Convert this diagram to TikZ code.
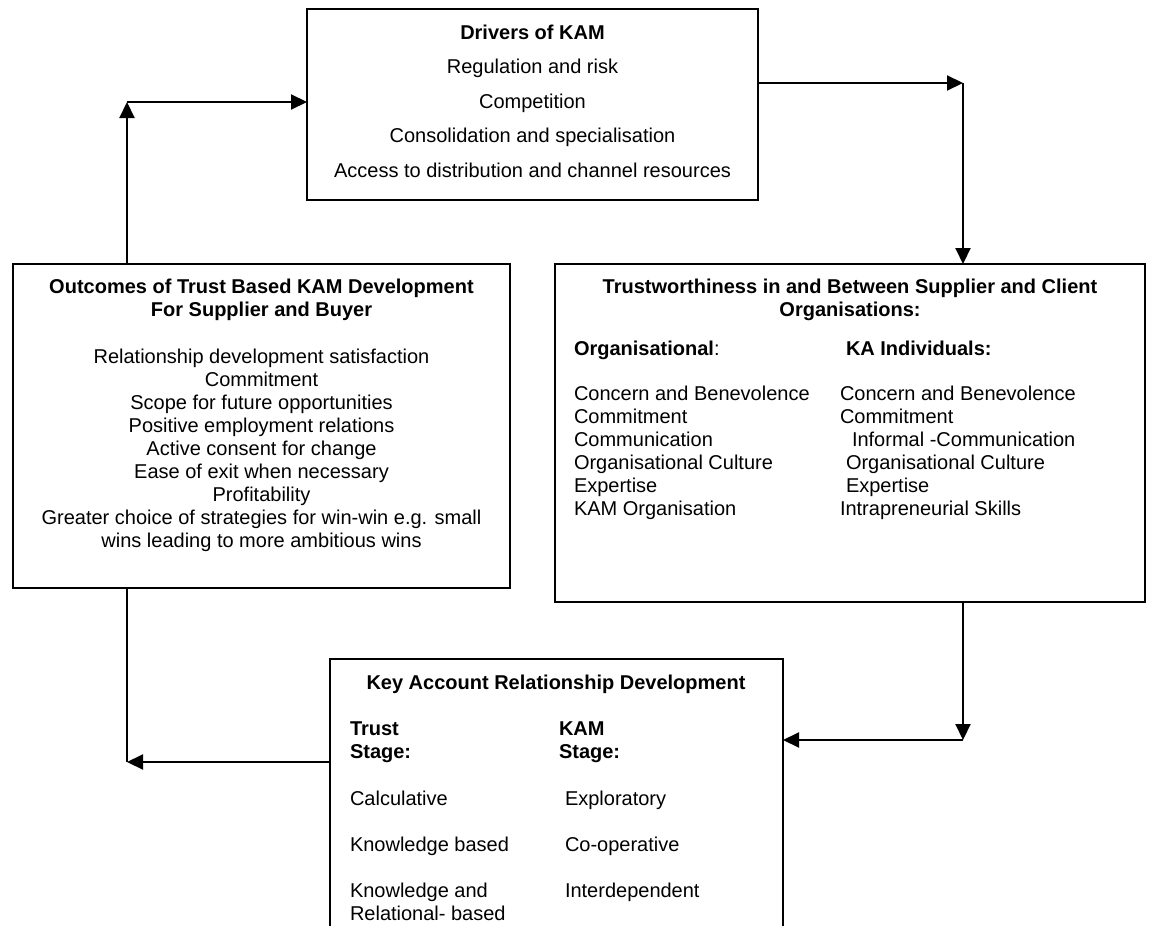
\documentclass[tikz,border=0pt]{standalone}
\usepackage{fontspec}
\setmainfont{Liberation Sans}
\usetikzlibrary{arrows.meta}
\begin{document}
\begin{tikzpicture}[x=1pt,y=-1pt,
  box/.style={draw, line width=2.1pt, anchor=north west, inner sep=0pt, outer sep=0pt},
  txt/.style={inner sep=0pt, outer sep=0pt, anchor=base, font=\fontsize{20pt}{23pt}\selectfont},
  ltxt/.style={txt, anchor=base west},
  hd/.style={txt, font=\fontsize{20pt}{23pt}\selectfont\bfseries},
  lhd/.style={hd, anchor=base west},
  link/.style={line width=2.1pt},
  tip/.style={link, -{Triangle[length=16pt,width=15pt]}}
]
\clip (0,0) rectangle (1152,926);

% the four boxes
\node[box, minimum width=451pt, minimum height=191pt] (drivers) at (307,9) {};
\node[box, minimum width=497pt, minimum height=324pt] (outcomes) at (13,264) {};
\node[box, minimum width=590pt, minimum height=338pt] (trust) at (555,264) {};
\node[box, minimum width=453pt, minimum height=320pt] (karel) at (330,659) {};

% connectors with their corner points
\coordinate (c1) at (127,102);
\draw[tip] (outcomes.north -| c1) -- (c1);
\draw[tip] (c1) -- (c1 -| drivers.west);
\coordinate (c2) at (963,83);
\draw[tip] (drivers.east |- c2) -- (c2);
\draw[tip] (c2) -- (c2 |- trust.north);
\coordinate (c3) at (963,740);
\draw[tip] (trust.south -| c3) -- (c3);
\draw[tip] (c3) -- (c3 -| karel.east);
\coordinate (c4) at (127,762);
\draw[tip] (karel.west |- c4) -- (c4);
\draw[link] (c4) -- (c4 |- outcomes.south);

% Drivers of KAM
\node[hd] (dt) at (532.5,39) {Drivers of KAM};
\foreach [count=\i] \t in {Regulation and risk, Competition, Consolidation and specialisation, Access to distribution and channel resources}
  \node[txt] (d\i) at (532.5,{73.5+34.5*(\i-1)}) {\t};

% Outcomes
\node[hd] (ot1) at (261.5,293) {Outcomes of Trust Based KAM Development};
\node[hd] (ot2) at (261.5,316) {For Supplier and Buyer};
\foreach [count=\i] \t in {Relationship development satisfaction, Commitment, Scope for future opportunities, Positive employment relations, Active consent for change, Ease of exit when necessary, Profitability, Greater choice of strategies for win-win e.g. small, wins leading to more ambitious wins}
  \node[txt] (o\i) at (261.5,{363+23*(\i-1)}) {\t};

% Trustworthiness
\node[hd] (tt1) at (850,293) {Trustworthiness in and Between Supplier and Client};
\node[hd] (tt2) at (850,316) {Organisations:};
\node[ltxt] (th1) at (574,355) {\textbf{Organisational}:};
\node[lhd] (th2) at (846,355) {KA Individuals:};
\foreach [count=\i] \t in {Concern and Benevolence, Commitment, Communication, Organisational Culture, Expertise, KAM Organisation}
  \node[ltxt] (ta\i) at (574,{400+23*(\i-1)}) {\t};
\foreach [count=\i] \x/\t in {840/Concern and Benevolence, 840/Commitment, 852/Informal -Communication, 846/Organisational Culture, 846/Expertise, 840/Intrapreneurial Skills}
  \node[ltxt] (tb\i) at (\x,{400+23*(\i-1)}) {\t};

% Key Account Relationship Development
\node[hd] (kt) at (556,689) {Key Account Relationship Development};
\node[lhd] (k1) at (350,735) {Trust};
\node[lhd] (k2) at (350,758) {Stage:};
\node[lhd] (k3) at (559,735) {KAM};
\node[lhd] (k4) at (559,758) {Stage:};
\node[ltxt] (ka1) at (350,805) {Calculative};
\node[ltxt] (kb1) at (565,805) {Exploratory};
\node[ltxt] (ka2) at (350,851) {Knowledge based};
\node[ltxt] (kb2) at (565,851) {Co-operative};
\node[ltxt] (ka3) at (350,897) {Knowledge and};
\node[ltxt] (ka4) at (350,920) {Relational- based};
\node[ltxt] (kb3) at (565,897) {Interdependent};
\end{tikzpicture}
\end{document}
